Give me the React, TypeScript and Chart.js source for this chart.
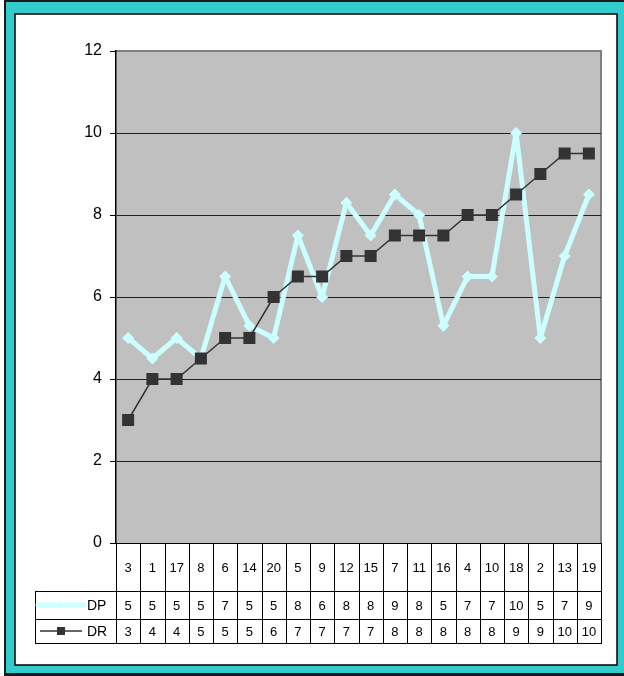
import React, { useEffect, useRef } from "react";
import { Chart, registerables } from "chart.js";

Chart.register(...registerables);

const categories = ["3", "1", "17", "8", "6", "14", "20", "5", "9", "12", "15", "7", "11", "16", "4", "10", "18", "2", "13", "19"];
const dpValues = [5, 4.5, 5, 4.5, 6.5, 5.3, 5, 7.5, 6, 8.3, 7.5, 8.5, 8, 5.3, 6.5, 6.5, 10, 5, 7, 8.5];
const drValues = [3, 4, 4, 4.5, 5, 5, 6, 6.5, 6.5, 7, 7, 7.5, 7.5, 7.5, 8, 8, 8.5, 9, 9.5, 9.5];
const seriesNames = ["DP", "DR"];
const yMin = 0;
const yMax = 12;
const yStep = 2;

const DP_COLOR = "#CCFFFF";
const DR_COLOR = "#333333";
const FONT = "'Liberation Sans', Arial, sans-serif";

const framePlugin = {
  id: "frameAndTable",
  beforeDraw(chart: any) {
    const ctx = chart.ctx as CanvasRenderingContext2D;
    const { width, height } = chart;
    ctx.save();
    ctx.fillStyle = "#ffffff";
    ctx.fillRect(0, 0, width, height);
    ctx.fillStyle = "#1a1a1a";
    ctx.fillRect(4, 0, width - 4, height);
    ctx.fillStyle = "#33CCCC";
    ctx.fillRect(6, 2, width - 6, 671);
    ctx.fillStyle = "#ffffff";
    ctx.fillRect(15, 14, 602, 651);
    ctx.strokeStyle = "#000";
    ctx.lineWidth = 1.5;
    ctx.strokeRect(15, 14, 602, 651);
    const a = chart.chartArea;
    ctx.fillStyle = "#C0C0C0";
    ctx.fillRect(a.left, a.top, a.right - a.left, a.bottom - a.top);
    ctx.strokeStyle = "#808080";
    ctx.lineWidth = 2;
    ctx.beginPath();
    ctx.moveTo(a.left, a.top);
    ctx.lineTo(a.right, a.top);
    ctx.lineTo(a.right, a.bottom);
    ctx.stroke();
    ctx.restore();
  },
  afterDraw(chart: any) {
    const ctx = chart.ctx as CanvasRenderingContext2D;
    const a = chart.chartArea;
    const xs = chart.scales.x;
    const n = categories.length;
    const w = (a.right - a.left) / n;
    const top = Math.round(a.bottom);
    const r1 = 591;
    const r2 = 619;
    const r3 = 643;
    const legLeft = 35;
    ctx.save();
    ctx.strokeStyle = "#000";
    ctx.lineWidth = 1;
    ctx.beginPath();
    ctx.moveTo(a.left, top + 0.5);
    ctx.lineTo(a.right, top + 0.5);
    [r1, r2, r3].forEach((y) => {
      ctx.moveTo(legLeft, y + 0.5);
      ctx.lineTo(a.right, y + 0.5);
    });
    ctx.moveTo(legLeft + 0.5, r1);
    ctx.lineTo(legLeft + 0.5, r3 + 1);
    for (let i = 0; i <= n; i++) {
      const x = Math.round(a.left + i * w) + 0.5;
      ctx.moveTo(x, top);
      ctx.lineTo(x, r3 + 1);
    }
    ctx.stroke();

    ctx.fillStyle = "#000";
    ctx.font = `13px ${FONT}`;
    ctx.textAlign = "center";
    ctx.textBaseline = "middle";
    for (let i = 0; i < n; i++) {
      const cx = xs.getPixelForValue(i);
      ctx.fillText(categories[i], cx, (top + r1) / 2 + 1);
      ctx.fillText(String(Math.round(dpValues[i])), cx, (r1 + r2) / 2 + 1);
      ctx.fillText(String(Math.round(drValues[i])), cx, (r2 + r3) / 2 + 1);
    }

    const dpY = (r1 + r2) / 2;
    const drY = (r2 + r3) / 2;
    ctx.strokeStyle = DP_COLOR;
    ctx.lineWidth = 5;
    ctx.lineCap = "round";
    ctx.beginPath();
    ctx.moveTo(38, dpY);
    ctx.lineTo(84, dpY);
    ctx.stroke();
    ctx.fillStyle = DP_COLOR;
    ctx.beginPath();
    ctx.moveTo(61, dpY - 4);
    ctx.lineTo(65, dpY);
    ctx.lineTo(61, dpY + 4);
    ctx.lineTo(57, dpY);
    ctx.closePath();
    ctx.fill();

    ctx.lineCap = "butt";
    ctx.strokeStyle = DR_COLOR;
    ctx.lineWidth = 1.5;
    ctx.beginPath();
    ctx.moveTo(40, drY);
    ctx.lineTo(82, drY);
    ctx.stroke();
    ctx.fillStyle = DR_COLOR;
    ctx.fillRect(57, drY - 4, 8, 8);

    ctx.fillStyle = "#000";
    ctx.font = `14px ${FONT}`;
    ctx.textAlign = "left";
    ctx.fillText(seriesNames[0], 87, dpY + 1);
    ctx.fillText(seriesNames[1], 87, drY + 1);
    ctx.restore();
  },
};

export default function App() {
  const ref = useRef<HTMLCanvasElement | null>(null);
  useEffect(() => {
    if (!ref.current) return;
    const chart = new Chart(ref.current, {
      type: "line",
      data: {
        labels: categories,
        datasets: [
          {
            label: seriesNames[0],
            data: dpValues,
            borderColor: DP_COLOR,
            backgroundColor: DP_COLOR,
            borderWidth: 5,
            borderJoinStyle: "round",
            pointStyle: "rectRot",
            pointRadius: 6,
            pointBorderWidth: 0,
            pointBackgroundColor: DP_COLOR,
            tension: 0,
            order: 2,
          },
          {
            label: seriesNames[1],
            data: drValues,
            borderColor: DR_COLOR,
            backgroundColor: DR_COLOR,
            borderWidth: 1.5,
            pointStyle: "rect",
            pointRadius: 8.5,
            pointBorderWidth: 0,
            pointBackgroundColor: DR_COLOR,
            tension: 0,
            order: 1,
          },
        ],
      },
      options: {
        animation: false,
        responsive: false,
        devicePixelRatio: 1,
        layout: { padding: { left: 0, top: 51, right: 23, bottom: 133 } },
        plugins: { legend: { display: false }, tooltip: { enabled: false } },
        scales: {
          x: {
            display: false,
            offset: true,
          },
          y: {
            min: yMin,
            max: yMax,
            afterFit: (scale: any) => {
              scale.width = 116;
            },
            ticks: {
              stepSize: yStep,
              color: "#000",
              font: { family: FONT, size: 16 },
              padding: 8,
            },
            grid: {
              color: (c: any) => (c.tick && c.tick.value === yMax ? "#808080" : "#222222"),
              lineWidth: 1,
              tickLength: 6,
              tickColor: "#000",
            },
            border: { color: "#000", width: 1.5 },
          },
        },
      },
      plugins: [framePlugin],
    });
    return () => chart.destroy();
  }, []);
  return (
    <div style={{ position: "absolute", left: 0, top: 0, width: 624, height: 676 }}>
      <canvas ref={ref} width={624} height={676} />
    </div>
  );
}
